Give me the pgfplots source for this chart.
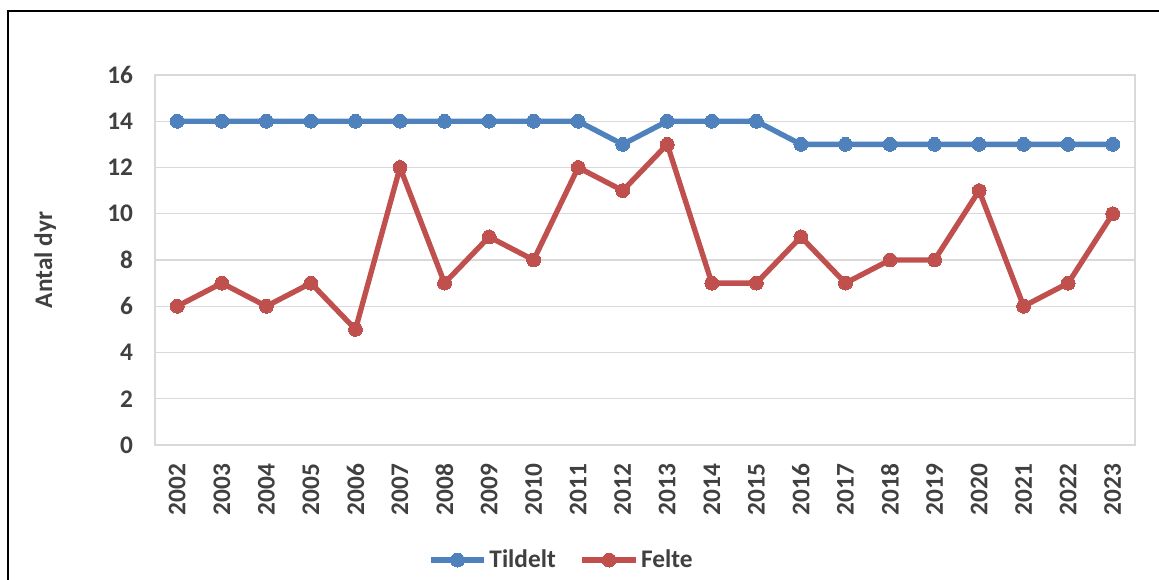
\documentclass[border=0pt]{standalone}
\usepackage{pgfplots}
\pgfplotsset{compat=1.18}
\usepackage{fontspec}
\setmainfont{Carlito}
\definecolor{cblue}{HTML}{4F81BD}
\definecolor{cred}{HTML}{C0504D}
\definecolor{cgrid}{HTML}{D9D9D9}
\definecolor{ctext}{HTML}{404040}
\begin{document}
\begin{tikzpicture}
\path[use as bounding box] (0,0) rectangle (869.25pt,435pt);
\draw[black, line width=1.6pt] (6pt,-5pt) -- (6pt,426.75pt) -- (880pt,426.75pt);
\begin{axis}[
  at={(116.25pt,101.25pt)}, anchor=south west,
  scale only axis, width=735pt, height=277.5pt,
  xmin=-0.5, xmax=21.5, ymin=0, ymax=16,
  xtick={0,...,21},
  xticklabels={2002,2003,2004,2005,2006,2007,2008,2009,2010,2011,2012,2013,2014,2015,2016,2017,2018,2019,2020,2021,2022,2023},
  ytick={0,2,...,16},
  major tick length=0pt,
  axis line style={cgrid, line width=1.1pt},
  ymajorgrids, grid style={cgrid, line width=1.1pt},
  /pgf/number format/assume math mode=true,
  ticklabel style={font=\fontsize{19}{21}\selectfont\bfseries, text=ctext},
  yticklabel style={anchor=east, xshift=-13pt},
  xticklabel style={rotate=90, anchor=east, xshift=-10.5pt},
  ylabel={Antal dyr},
  ylabel style={at={(axis description cs:-0.112,0.5)}, anchor=center, font=\fontsize{19}{21}\selectfont\bfseries, text=ctext},
  legend columns=2,
  legend style={at={(axis description cs:0.415,-0.311)}, anchor=center, draw=none, font=\fontsize{19}{21}\selectfont\bfseries, text=ctext, /tikz/every even column/.append style={column sep=16pt}},
  legend image code/.code={\draw[#1, mark repeat=2, mark phase=2] plot coordinates {(0pt,0pt) (20pt,0pt) (40pt,0pt)};},
]
\addplot[cblue, line width=4pt, mark=*, mark size=5.2pt, mark options={line width=0pt}] coordinates {
(0,14) (1,14) (2,14) (3,14) (4,14) (5,14) (6,14) (7,14) (8,14) (9,14) (10,13) (11,14) (12,14) (13,14) (14,13) (15,13) (16,13) (17,13) (18,13) (19,13) (20,13) (21,13)};
\addlegendentry{Tildelt}
\addplot[cred, line width=4pt, mark=*, mark size=5.2pt, mark options={line width=0pt}] coordinates {
(0,6) (1,7) (2,6) (3,7) (4,5) (5,12) (6,7) (7,9) (8,8) (9,12) (10,11) (11,13) (12,7) (13,7) (14,9) (15,7) (16,8) (17,8) (18,11) (19,6) (20,7) (21,10)};
\addlegendentry{Felte}
\end{axis}
\end{tikzpicture}
\end{document}
